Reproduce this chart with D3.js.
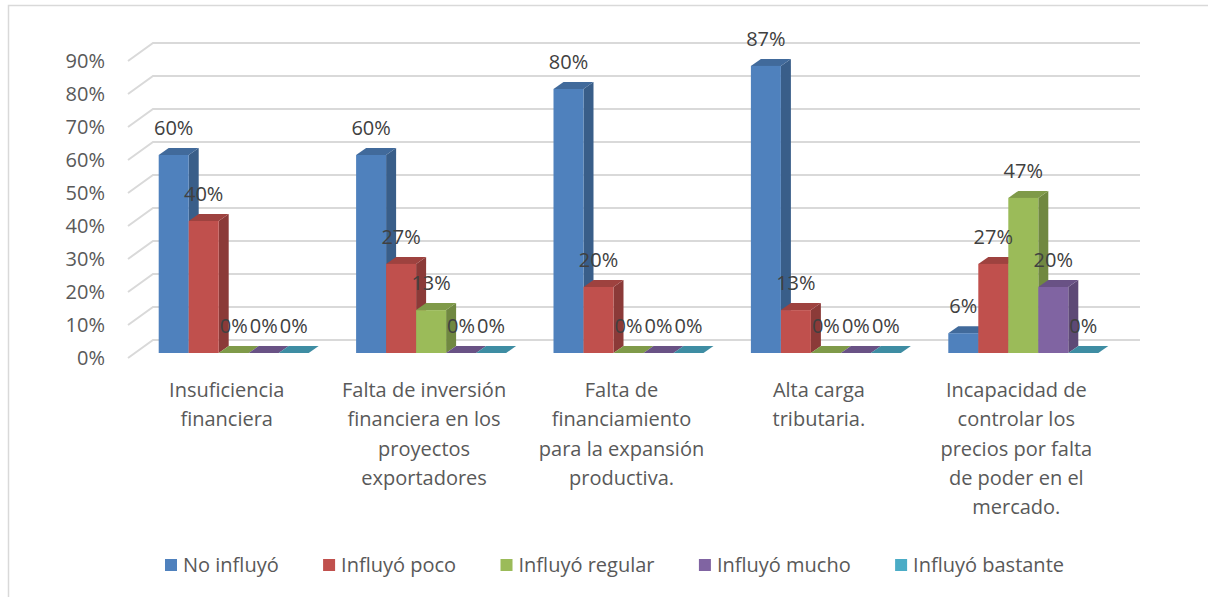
<!DOCTYPE html>
<html>
<head>
<meta charset="utf-8">
<script src="https://cdn.jsdelivr.net/npm/d3@7"></script>
<style>
  body { margin: 0; background: #fff; }
  text { font-family: "Open Sans", sans-serif; fill: #595959; }
</style>
</head>
<body>
<div id="container"></div>
<script>
// data
let categories = [
  "Insuficiencia\nfinanciera",
  "Falta de inversión\nfinanciera en los\nproyectos\nexportadores",
  "Falta de\nfinanciamiento\npara la expansión\nproductiva.",
  "Alta carga\ntributaria.",
  "Incapacidad de\ncontrolar los\nprecios por falta\nde poder en el\nmercado."
];
let seriesNames = ["No influyó", "Influyó poco", "Influyó regular", "Influyó mucho", "Influyó bastante"];
let noInfluyo = [0.60, 0.60, 0.80, 0.87, 0.06];
let influyoPoco = [0.40, 0.27, 0.20, 0.13, 0.27];
let influyoRegular = [0, 0.13, 0, 0, 0.47];
let influyoMucho = [0, 0, 0, 0, 0.20];
let influyoBastante = [0, 0, 0, 0, 0];
let yTicks = [0, 0.1, 0.2, 0.3, 0.4, 0.5, 0.6, 0.7, 0.8, 0.9];

let seriesValues = [noInfluyo, influyoPoco, influyoRegular, influyoMucho, influyoBastante];
let colors = ["#4F81BD", "#C0504D", "#9BBB59", "#8064A2", "#4BACC6"];

let w = 1208;
let h = 597;
// depth of the 3d box (back wall offset)
let depthX = 25;
let depthY = 18;

let viz = d3.select("#container")
  .append("svg")
    .attr("width", w)
    .attr("height", h)
;

// chart border
viz.append("rect")
  .attr("x", 8.5).attr("y", 5.5)
  .attr("width", 1210).attr("height", 600)
  .attr("fill", "none")
  .attr("stroke", "#d9d9d9")
  .attr("stroke-width", 1.5)
;

// scales (front plane)
let xScale = d3.scaleBand().domain(d3.range(categories.length)).range([128, 1115]);
let yScale = d3.scaleLinear().domain([0, 0.9]).range([358, 61]);
let inner = d3.scaleBand().domain(d3.range(seriesNames.length))
  .range([0, 150]);
let groupOffset = (xScale.bandwidth() - 150) / 2;

// gridlines: slanted side wall + back wall
let grid = viz.append("g").attr("class", "grid");
yTicks.forEach(function(t){
  let y = yScale(t);
  grid.append("path")
    .attr("d", "M128," + y + "L" + (128 + depthX) + "," + (y - depthY) + "L1140," + (y - depthY))
    .attr("fill", "none")
    .attr("stroke", "#d9d9d9")
    .attr("stroke-width", 2)
  ;
});

// y axis labels
viz.append("g").selectAll("text")
  .data(yTicks)
  .enter()
  .append("text")
    .attr("x", 105)
    .attr("y", function(d){ return yScale(d) + 7; })
    .attr("text-anchor", "end")
    .attr("font-size", 20)
    .text(function(d){ return Math.round(d * 100) + "%"; })
;

// bars: front face sits partway into the depth
let fdx = 7, fdy = -5;   // front face shift
let bdx = 10, bdy = -7;  // bar depth
let bars = viz.append("g").attr("class", "bars");
let labels = viz.append("g").attr("class", "labels");

categories.forEach(function(c, ci){
  seriesValues.forEach(function(vals, si){
    let v = vals[ci];
    let x0 = xScale(ci) + groupOffset + inner(si) + fdx;
    let x1 = x0 + inner.bandwidth();
    let yb = yScale(0) + fdy;
    let yt = yScale(v) + fdy;
    let col = d3.color(colors[si]);
    let g = bars.append("g");
    // side
    g.append("path")
      .attr("d", "M" + x1 + "," + yb + "L" + (x1 + bdx) + "," + (yb + bdy) + "L" + (x1 + bdx) + "," + (yt + bdy) + "L" + x1 + "," + yt + "Z")
      .attr("fill", col.darker(0.9));
    // top
    g.append("path")
      .attr("d", "M" + x0 + "," + yt + "L" + (x0 + bdx) + "," + (yt + bdy) + "L" + (x1 + bdx) + "," + (yt + bdy) + "L" + x1 + "," + yt + "Z")
      .attr("fill", col.darker(0.55));
    // front
    if (v > 0) {
      g.append("rect")
        .attr("x", x0).attr("y", yt)
        .attr("width", inner.bandwidth()).attr("height", yb - yt)
        .attr("fill", col);
    }
    labels.append("text")
      .attr("x", (x0 + x1) / 2)
      .attr("y", yt - 20)
      .attr("text-anchor", "middle")
      .attr("font-size", 20)
      .style("fill", "#404040")
      .text(Math.round(v * 100) + "%");
  });
});

// category labels
let catG = viz.append("g").attr("class", "categories");
categories.forEach(function(c, ci){
  let t = catG.append("text")
    .attr("text-anchor", "middle")
    .attr("font-size", 20);
  c.split("\n").forEach(function(line, li){
    t.append("tspan")
      .attr("x", xScale(ci) + xScale.bandwidth() / 2)
      .attr("y", 397 + li * 29.3)
      .text(line);
  });
});

// legend
let legend = viz.append("g").attr("class", "legend");
let items = [];
seriesNames.forEach(function(name, i){
  let g = legend.append("g");
  g.append("rect")
    .attr("x", 0).attr("y", -6)
    .attr("width", 12).attr("height", 12)
    .attr("fill", colors[i]);
  let t = g.append("text")
    .attr("x", 18).attr("y", 7)
    .attr("font-size", 20)
    .text(name);
  items.push({ g: g, w: 18 + t.node().getComputedTextLength() });
});
let legendStart = 165, legendEnd = 1064;
let gap = (legendEnd - legendStart - d3.sum(items, function(d){ return d.w; })) / (items.length - 1);
let lx = legendStart;
items.forEach(function(it){
  it.g.attr("transform", "translate(" + lx + ",565)");
  lx += it.w + gap;
});
</script>
</body>
</html>
